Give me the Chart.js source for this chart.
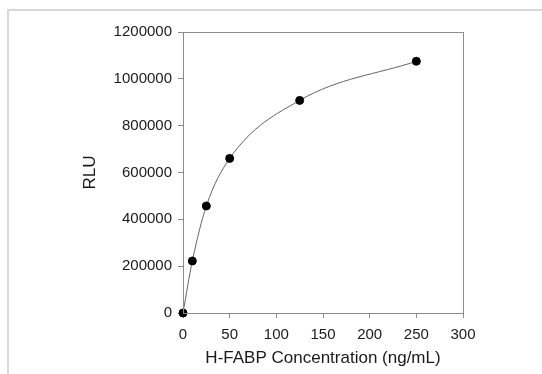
<!DOCTYPE html>
<html>
<head>
<meta charset="utf-8">
<script src="https://cdn.jsdelivr.net/npm/chart.js@4/dist/chart.umd.min.js"></script>
<style>
  html, body { margin: 0; padding: 0; background: #fff; }
  #wrap { width: 542px; height: 374px; }
</style>
</head>
<body>
<div id="wrap"><canvas id="curveChart" width="542" height="374"></canvas></div>
<script>
// concentration (ng/mL) and measured RLU
const concentrations = [0, 10, 25, 50, 125, 250];
const rluValues = [0, 222000, 457000, 660000, 908000, 1075000];

const xTitle = 'H-FABP Concentration (ng/mL)';
const yTitle = 'RLU';

const axisGray = '#8c8c8c';
const textColor = '#1a1a1a';

// light gray page frame + box around the plot area
const framePlugin = {
  id: 'frame',
  beforeDraw(chart) {
    const ctx = chart.ctx;
    ctx.save();
    ctx.fillStyle = '#fff';
    ctx.fillRect(0, 0, chart.width, chart.height);
    ctx.fillStyle = '#d9d9d9';
    ctx.fillRect(7, 9, chart.width - 7, 2);
    ctx.fillRect(7, 9, 2, chart.height - 9);
    ctx.restore();
  },
  afterDraw(chart) {
    const a = chart.chartArea;
    const ctx = chart.ctx;
    ctx.save();
    ctx.strokeStyle = axisGray;
    ctx.lineWidth = 1;
    ctx.strokeRect(Math.round(a.left) + 0.5, Math.round(a.top) + 0.5,
      Math.round(a.right - a.left), Math.round(a.bottom - a.top));
    ctx.restore();
  }
};

const points = concentrations.map((c, i) => ({ x: c, y: rluValues[i] }));

new Chart(document.getElementById('curveChart'), {
  type: 'scatter',
  data: {
    datasets: [{
      data: points,
      showLine: true,
      cubicInterpolationMode: 'monotone',
      borderColor: '#666',
      borderWidth: 1,
      pointRadius: 4,
      pointBackgroundColor: '#000',
      pointBorderColor: '#000',
      clip: false
    }]
  },
  options: {
    responsive: false,
    animation: false,
    layout: { padding: { left: 76, right: 79, top: 32, bottom: 4 } },
    plugins: {
      legend: { display: false },
      tooltip: { enabled: false }
    },
    scales: {
      x: {
        type: 'linear',
        min: 0,
        max: 300,
        ticks: {
          stepSize: 50,
          color: textColor,
          font: { family: 'Liberation Sans, Arial, sans-serif', size: 15 },
          padding: 8
        },
        grid: { display: true, drawOnChartArea: false, tickLength: 5, color: axisGray },
        border: { display: true, color: axisGray },
        title: {
          display: true,
          text: xTitle,
          color: textColor,
          font: { family: 'Liberation Sans, Arial, sans-serif', size: 17 },
          padding: { top: 2, bottom: 1 }
        },
        afterFit(scale) { scale.height = 57; }
      },
      y: {
        type: 'linear',
        min: 0,
        max: 1200000,
        ticks: {
          stepSize: 200000,
          color: textColor,
          font: { family: 'Liberation Sans, Arial, sans-serif', size: 15 },
          padding: 6,
          callback: v => String(v)
        },
        grid: { display: true, drawOnChartArea: false, tickLength: 5, color: axisGray },
        border: { display: true, color: axisGray },
        title: {
          display: true,
          text: yTitle,
          color: textColor,
          font: { family: 'Liberation Sans, Arial, sans-serif', size: 17 },
          padding: { top: 4, bottom: 4 }
        },
        afterFit(scale) { scale.width = 107; }
      }
    }
  },
  plugins: [framePlugin]
});
</script>
</body>
</html>
